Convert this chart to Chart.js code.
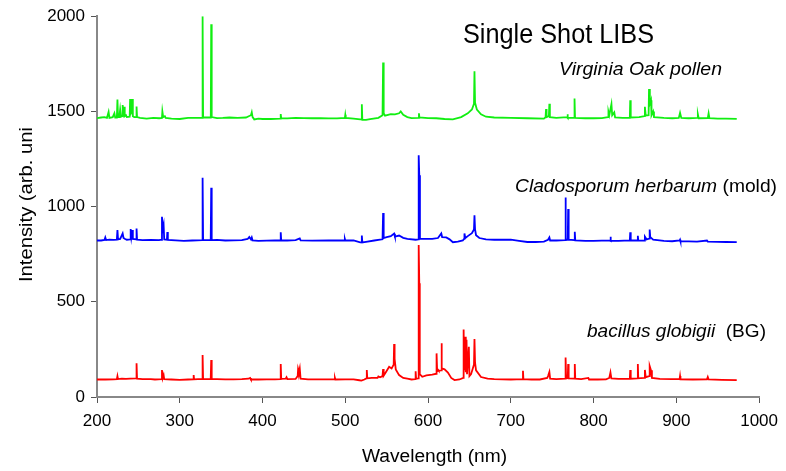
<!DOCTYPE html>
<html>
<head>
<meta charset="utf-8">
<script src="https://cdn.jsdelivr.net/npm/chart.js@4/dist/chart.umd.min.js"></script>
<style>
  html, body { margin: 0; padding: 0; background: #fff; }
  #wrap { width: 786px; height: 471px; }
</style>
</head>
<body>
<div id="wrap"><canvas id="libs"></canvas></div>
<script>
// spectra: wavelength (nm) and intensity (arb. unit)
const greenWl = [200, 205, 209, 212, 214, 215, 219, 221, 222, 224, 224.7, 225.4, 227, 228, 229, 230.5, 231, 232, 232.7, 233.5, 235, 236, 239.5, 240, 241, 242.2, 242.7, 243.3, 245, 247.2, 247.8, 248.4, 252, 260, 268, 275, 278.5, 279, 280, 282, 283, 290, 300, 310, 320, 327, 327.6, 328.2, 334, 337.5, 338, 338.6, 345, 352, 360, 370, 380, 384, 386, 387, 388, 390, 395, 400, 410, 421.5, 422, 422.6, 430, 440, 450, 460, 470, 480, 490, 499.5, 500, 500.5, 510, 518, 519.5, 520, 520.6, 525, 530, 540, 545, 545.7, 546.4, 548, 555, 560, 565, 567, 570, 575, 580, 588.5, 589, 589.6, 600, 610, 620, 630, 640, 648, 653, 655.5, 656.1, 656.8, 659, 664, 670, 680, 700, 720, 740, 742, 742.6, 743.2, 746, 746.6, 747.2, 755, 768, 768.5, 769, 776.5, 777, 777.6, 790, 800, 810, 817.5, 818, 819, 821.6, 822.5, 825, 826, 835, 843.8, 844.3, 844.9, 855, 861.5, 862, 863, 866.5, 867, 868, 869.4, 870, 872, 873, 885, 895, 903, 904.5, 906, 915, 925, 926, 927, 938, 939, 940, 950, 960, 973];
const greenI = [1465, 1468, 1470, 1466, 1497, 1466, 1470, 1490, 1468, 1468, 1563, 1470, 1470, 1510, 1472, 1475, 1533, 1500, 1524, 1475, 1480, 1470, 1472, 1565, 1490, 1500, 1565, 1475, 1470, 1470, 1526, 1470, 1466, 1462, 1466, 1464, 1466, 1500, 1470, 1475, 1466, 1462, 1460, 1466, 1466, 1466, 2000, 1468, 1468, 1468, 1958, 1470, 1465, 1466, 1468, 1466, 1468, 1476, 1480, 1495, 1470, 1458, 1462, 1460, 1460, 1462, 1486, 1464, 1463, 1466, 1465, 1464, 1465, 1463, 1463, 1466, 1482, 1466, 1462, 1458, 1458, 1538, 1456, 1455, 1460, 1466, 1480, 1757, 1490, 1478, 1486, 1484, 1490, 1500, 1482, 1470, 1465, 1466, 1490, 1468, 1465, 1464, 1460, 1458, 1470, 1490, 1510, 1540, 1711, 1545, 1510, 1485, 1472, 1468, 1466, 1464, 1462, 1470, 1512, 1470, 1475, 1540, 1470, 1466, 1470, 1485, 1466, 1466, 1568, 1466, 1464, 1464, 1465, 1470, 1498, 1480, 1538, 1480, 1495, 1468, 1466, 1466, 1559, 1468, 1470, 1475, 1524, 1478, 1480, 1617, 1540, 1559, 1480, 1500, 1470, 1466, 1464, 1466, 1493, 1466, 1464, 1466, 1485, 1464, 1465, 1490, 1465, 1462, 1462, 1461];

const blueWl = [200, 205, 209, 210, 211, 215, 220, 224, 224.7, 225.4, 228, 231, 232, 234, 236, 240.2, 240.7, 241.5, 242.2, 242.7, 243.3, 247.2, 247.8, 248.4, 255, 265, 275, 278, 278.5, 279.5, 280.5, 281.2, 284.5, 285, 285.6, 295, 305, 315, 327, 327.6, 328.2, 337.4, 338, 338.6, 345, 355, 365, 375, 382, 384, 386, 387, 388, 395, 405, 415, 421.5, 422, 422.6, 430, 440, 445, 446, 460, 480, 499, 499.5, 500, 510, 518, 519.5, 520, 520.6, 525, 535, 542, 545, 545.7, 546.4, 550, 555, 559, 560, 565, 570, 575, 585, 588.3, 588.7, 589.4, 590.2, 595, 605, 612, 616, 617, 622, 626, 630, 636, 642, 643.5, 644, 645, 648, 653, 655.5, 656.1, 656.8, 658, 662, 670, 680, 690, 700, 710, 720, 730, 740, 745, 746.6, 747.5, 755, 765.6, 766, 766.6, 768.8, 769.3, 769.9, 776.8, 777.3, 777.9, 790, 800, 810, 820, 820.4, 821, 830, 843.8, 844.3, 844.9, 853, 853.5, 854, 861.5, 862, 864, 867.2, 867.8, 868.5, 872, 885, 895, 904, 904.5, 905, 915, 925, 937, 938, 950, 960, 973];
const blueI = [822, 822, 825, 838, 824, 826, 825, 826, 877, 828, 830, 859, 835, 830, 826, 828, 882, 840, 840, 877, 830, 828, 885, 826, 824, 825, 824, 826, 947, 880, 903, 828, 826, 866, 825, 823, 820, 822, 824, 1151, 824, 824, 1099, 824, 825, 822, 823, 824, 830, 840, 828, 838, 822, 820, 821, 822, 822, 865, 822, 822, 824, 833, 823, 821, 822, 822, 830, 822, 822, 812, 812, 848, 812, 815, 822, 826, 828, 966, 835, 840, 845, 858, 842, 848, 836, 830, 826, 828, 1270, 1165, 832, 830, 830, 835, 859, 840, 838, 828, 813, 816, 822, 830, 859, 835, 845, 860, 880, 954, 880, 850, 835, 828, 826, 826, 826, 820, 814, 814, 816, 826, 838, 822, 822, 824, 1048, 826, 826, 987, 826, 824, 868, 822, 820, 820, 821, 822, 842, 820, 820, 822, 865, 822, 822, 847, 821, 822, 842, 828, 832, 880, 840, 826, 820, 818, 822, 826, 818, 817, 816, 822, 816, 815, 814, 813];

const redWl = [200, 210, 220, 224, 224.7, 225.4, 230, 235, 240, 247.2, 247.8, 248.4, 255, 265, 270, 278, 278.5, 279.3, 280.5, 281.2, 290, 300, 310, 316.5, 316.8, 317.3, 322, 327, 327.6, 328.2, 337.4, 338, 338.6, 345, 355, 365, 375, 383, 385, 386, 395, 405, 415, 421.5, 422, 422.6, 428, 429, 430, 440, 442.5, 443, 444, 445, 446, 455, 465, 475, 487, 487.5, 488, 500, 510, 517, 519.5, 523, 525.5, 526, 526.6, 532, 539, 540, 542, 545, 545.7, 546.4, 549, 553, 556, 558.5, 559, 559.6, 561, 565, 570, 575, 580, 584.5, 585, 585.6, 588.3, 588.7, 589.4, 590, 593, 598, 605, 609.8, 610.3, 611, 612.3, 613, 615.8, 616.2, 616.8, 620, 624, 628, 632, 638, 642.5, 643, 643.6, 645, 645.6, 646.5, 647.1, 649.3, 650, 652, 655.5, 656.1, 656.8, 658, 664, 672, 680, 690, 700, 714.2, 714.7, 715.2, 725, 735, 744, 745, 746.6, 747.5, 755, 765.7, 766.2, 766.8, 768.8, 769.3, 769.9, 776.8, 777.3, 777.9, 785, 793.7, 794.5, 805, 815, 819, 820.4, 821.5, 830, 843.8, 844.3, 844.9, 853, 853.5, 854, 861.5, 862, 863, 867.2, 867.8, 869.4, 870.5, 880, 895, 904, 904.5, 905, 920, 937, 938, 939, 955, 973];
const redI = [92, 92, 93, 94, 110, 94, 96, 95, 97, 98, 177, 96, 94, 94, 92, 94, 142, 98, 115, 94, 92, 90, 92, 93, 115, 93, 94, 94, 220, 95, 94, 194, 94, 94, 93, 93, 94, 96, 100, 92, 92, 93, 93, 94, 173, 95, 96, 104, 94, 95, 110, 147, 130, 150, 96, 93, 93, 93, 94, 100, 92, 93, 93, 88, 86, 92, 98, 142, 98, 100, 100, 108, 104, 110, 147, 112, 130, 159, 150, 170, 278, 200, 145, 115, 100, 96, 92, 94, 135, 96, 98, 798, 597, 120, 106, 114, 118, 122, 229, 135, 142, 138, 140, 282, 150, 145, 128, 100, 89, 92, 100, 355, 140, 317, 130, 300, 120, 264, 110, 120, 170, 304, 180, 140, 105, 96, 94, 93, 92, 94, 138, 94, 92, 92, 100, 110, 131, 96, 94, 96, 208, 98, 100, 173, 98, 96, 173, 96, 94, 100, 92, 92, 93, 100, 129, 98, 95, 96, 142, 96, 98, 173, 98, 100, 142, 104, 110, 163, 140, 100, 95, 94, 95, 110, 93, 92, 93, 105, 92, 90, 89];

const xTicks = [200, 300, 400, 500, 600, 700, 800, 900, 1000];
const yTicks = [0, 500, 1000, 1500, 2000];

const toPoints = (wl, vals) => wl.map((w, i) => ({ x: w, y: vals[i] }));

const FONT = "'Liberation Sans', Arial, sans-serif";

// draw text squeezed/stretched to the width it has in the picture
function fitText(ctx, parts, x, y, width, size, rotate) {
    let natural = 0;
    parts.forEach((p) => {
        ctx.font = (p.italic ? "italic " : "") + size + "px " + FONT;
        natural += ctx.measureText(p.t).width;
    });
    const s = width / natural;
    ctx.save();
    ctx.translate(x, y);
    if (rotate) ctx.rotate(-Math.PI / 2);
    ctx.scale(s, 1);
    ctx.fillStyle = "#000";
    ctx.textBaseline = "alphabetic";
    ctx.textAlign = "left";
    let cx = 0;
    parts.forEach((p) => {
        ctx.font = (p.italic ? "italic " : "") + size + "px " + FONT;
        ctx.fillText(p.t, cx, 0);
        cx += ctx.measureText(p.t).width;
    });
    ctx.restore();
}

const labelsPlugin = {
    id: "libsLabels",
    afterDraw(chart) {
        const ctx = chart.ctx;
        fitText(ctx, [{ t: "Single Shot LIBS" }], 463, 43, 191, 27);
        fitText(ctx, [{ t: "Virginia Oak pollen", italic: true }], 559, 75, 163, 19);
        fitText(ctx, [{ t: "Cladosporum herbarum", italic: true }, { t: " (mold)" }], 515, 192, 262, 19);
        fitText(ctx, [{ t: "bacillus globigii", italic: true }, { t: "  (BG)" }], 587, 337, 179, 19);
        fitText(ctx, [{ t: "Wavelength (nm)" }], 362, 462, 145, 18);
        fitText(ctx, [{ t: "Intensity (arb. uni" }], 32, 282, 155, 18, true);
    }
};

const axisCommon = {
    type: "linear",
    border: { display: true, color: "#888", width: 2 },
    grid: { display: true, drawOnChartArea: false, drawTicks: true, tickLength: 6, color: "#555", tickWidth: 1 },
};

new Chart(document.getElementById("libs"), {
    type: "line",
    data: {
        datasets: [
            { label: "Virginia Oak pollen", data: toPoints(greenWl, greenI), borderColor: "#11ee11" },
            { label: "Cladosporum herbarum (mold)", data: toPoints(blueWl, blueI), borderColor: "#0000ff" },
            { label: "bacillus globigii (BG)", data: toPoints(redWl, redI), borderColor: "#ff0000" },
        ].map((d) => Object.assign(d, { borderWidth: 1.8, pointRadius: 0, tension: 0, fill: false }))
    },
    options: {
        responsive: true,
        maintainAspectRatio: false,
        animation: false,
        layout: { padding: { left: 0, top: 16, right: 20, bottom: 0 } },
        plugins: { legend: { display: false }, tooltip: { enabled: false }, title: { display: false } },
        scales: {
            x: Object.assign({}, axisCommon, {
                min: 200,
                max: 1000,
                afterBuildTicks: (s) => { s.ticks = xTicks.map((v) => ({ value: v })); },
                afterFit: (s) => { s.height = 74; },
                ticks: { color: "#000", padding: 8, maxRotation: 0, autoSkip: false, callback: (v) => String(v), font: { family: FONT, size: 17 } }
            }),
            y: Object.assign({}, axisCommon, {
                min: 0,
                max: 2000,
                afterBuildTicks: (s) => { s.ticks = yTicks.map((v) => ({ value: v })); },
                afterFit: (s) => { s.width = 97; },
                ticks: { color: "#000", padding: 6, callback: (v) => String(v), font: { family: FONT, size: 17 } }
            })
        }
    },
    plugins: [labelsPlugin]
});
</script>
</body>
</html>
